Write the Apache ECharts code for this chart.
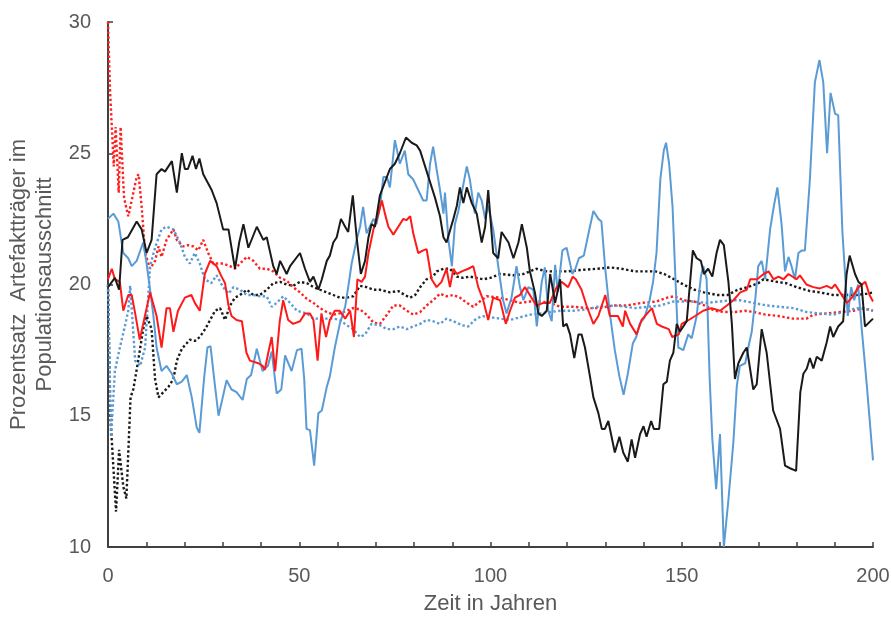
<!DOCTYPE html>
<html>
<head>
<meta charset="utf-8">
<script src="https://cdn.jsdelivr.net/npm/echarts@6/dist/echarts.min.js"></script>
<style>
  html, body { margin: 0; padding: 0; background: #fff; }
  #chart { width: 891px; height: 617px; }
</style>
</head>
<body>
<div id="chart"></div>
<script>
var blackSolid = [
  [0,19.9],[1.8,20.25],[2.9,19.8],[3.8,21.7],[5.2,21.8],[7.5,22.4],[8.8,22.1],[10.1,21.2],[11.4,21.7],
  [12.7,24.2],[14,24.4],[14.9,24.3],[16.7,24.7],[18,23.5],[19.3,25],[20.1,24.4],[20.9,24.4],[22.1,24.9],
  [23,24.4],[23.9,24.8],[24.9,24.2],[27.1,23.6],[28.4,23.1],[30.1,22.1],[31.5,22.1],[33.2,20.6],[34.3,21.6],
  [35.4,22.3],[36.7,21.4],[38.9,22.2],[40.6,21.7],[41.5,21.8],[43.2,20.7],[44.1,20.4],[45,20.9],[46.7,20.4],
  [47.6,20.7],[50.2,21.2],[51.5,20.6],[52.8,20.1],[53.7,20.3],[55,19.8],[55.9,20.2],[57.2,20.9],[58,21.1],
  [58.9,21.6],[59.8,21.8],[60.9,22.5],[62,22.2],[62.8,22],[64,23.4],[65,21.8],[66.1,20.4],[67.2,20.9],
  [68.1,21.8],[68.9,22.3],[69.8,22.2],[71.1,23.4],[72.4,23.9],[73.7,24.4],[75,24.6],[76.3,25],[77.9,25.6],
  [79.4,25.4],[80.7,25.3],[81.6,25.1],[82.9,24.5],[84.2,23.9],[85.5,23.3],[86.8,22.6],[87.7,21.8],[88.5,21.6],
  [90.3,22.5],[91.2,23],[92,23.7],[92.9,23.1],[93.8,23.7],[95.1,23.1],[96.4,22.7],[97.7,21.6],[98.6,22.2],
  [99.4,23.6],[100.7,21.2],[102,21],[102.9,22],[104.7,21.6],[106,21],[107.3,21.6],[108.2,22.3],[109.5,21.4],
  [110.3,20.5],[111.6,19.7],[112.5,18.9],[113.4,18.8],[114.7,19],[115.6,20.4],[116.9,19.3],[118.2,20.2],
  [119,18.4],[119.9,18.5],[120.8,18.1],[121.9,17.2],[123,18.1],[123.8,18.1],[124.7,17.6],[126,16.5],
  [126.9,15.7],[128.2,15.1],[129.1,14.5],[129.9,14.5],[130.8,14.8],[132.5,13.6],[133.7,14.2],[134.7,13.6],
  [135.9,13.25],[136.9,14.1],[137.8,13.4],[139.1,14.3],[140,14.6],[140.8,14.2],[142,14.8],[142.7,14.5],
  [144.1,14.5],[145.2,16.2],[146.1,16.3],[146.9,17.1],[147.8,17.4],[148.7,18.5],[149.5,18.2],[150.4,18.4],
  [151.3,18.6],[152.9,21.3],[153.9,21],[155,20.9],[155.8,20.4],[156.9,20.6],[158,20.3],[159.1,21.2],
  [160,21.7],[161,21.5],[162.2,20.1],[163.1,18.5],[163.9,16.4],[164.8,17],[166.1,17.4],[167,17.6],
  [168.7,16],[169.6,16.2],[170.9,18.3],[172.2,17.4],[173.9,15.2],[175.7,14.5],[177,13.1],[178.3,13],
  [179.9,12.9],[181,15.9],[181.8,16.6],[182.7,16.8],[183.5,17.2],[184.4,16.8],[185.3,17.25],[186.6,17.1],
  [187.9,17.8],[188.8,18.4],[189.6,18],[190.9,18.4],[192.2,18.6],[193.1,20.4],[193.9,21.1],[195.3,20.4],
  [196.2,20.1],[197,20],[197.9,18.4],[200,18.7]
];

var redSolid = [
  [0,20.2],[1,20.6],[1.8,20.2],[3.1,20.1],[4,19],[5.3,19.6],[6.2,19.6],[7.1,18.9],[8.3,17.9],[9.2,18.5],
  [11,19.7],[12.7,18.8],[14,17.6],[15.3,19.1],[16.2,19.1],[17.1,18.2],[18.3,19],[20.1,19.5],[21.8,19.6],
  [22.7,19.3],[24,19],[25.3,20.4],[26.7,20.9],[28.4,20.7],[29.7,20.3],[30.6,20.05],[31.5,19.2],[32.3,18.8],
  [33.6,18.65],[35,18.6],[36.2,17.4],[37.1,17.1],[39.3,17],[40.4,16.9],[41,16.75],[41.9,17.4],[42.8,18],
  [43.7,16.7],[44.9,18.6],[45.8,19.4],[47.1,18.65],[48.4,18.5],[50.2,18.6],[51.5,18.9],[52.8,18.9],
  [53.7,18.65],[54.8,17.1],[55.8,18.9],[57,18],[58,18.65],[59.3,19],[60.6,19],[62,18.7],[63.3,19],
  [64.3,18],[65.2,20.2],[66.3,20.1],[67.2,20.3],[68.1,21.2],[69.4,22.1],[70.7,22.7],[71.6,23.2],[72.4,22.7],
  [73.3,22.2],[74.6,21.9],[75.9,22.2],[77.2,22.5],[78,22.45],[79,22.6],[79.8,21.95],[81.1,21.2],[82.4,21.3],
  [83.3,21.35],[84.6,20.2],[85.9,19.9],[87.2,20.1],[88.5,20.6],[89.4,19.9],[90.3,20.6],[91.2,20.4],
  [92.5,20.5],[94.2,20.6],[95.5,20.7],[96.8,19.9],[98.1,19.4],[99.4,18.65],[100.7,19.5],[102.5,19.4],
  [104,18.5],[105.1,19],[106.4,19.5],[107.7,19.6],[109,19.9],[112,19.2],[113.8,19.3],[115.5,19.3],
  [117.3,19.9],[118.6,20.1],[120.3,19.9],[121.5,20.3],[122.3,20.2],[123.8,19.8],[125.1,19.2],[126.9,18.5],
  [128.2,18.8],[130,19.6],[131.2,18.8],[133.3,18.8],[134.6,18.4],[135.2,19],[136.5,18.5],[138.2,18.1],
  [139.5,18.65],[142.2,19.1],[143.5,18.5],[144.8,18.4],[146.6,18.3],[147.5,18],[149.2,18.1],[150,18.5],
  [151.3,18.6],[153.5,18.8],[155.6,19],[157.8,19.1],[160,19],[161.8,19.2],[163.5,19.4],[165.3,19.7],
  [167,19.8],[167.9,20.2],[169.7,20.2],[171.4,20.4],[172.7,20.5],[174,20.2],[175.3,20.3],[176.6,20.2],
  [177.9,20.4],[180,20.2],[180.9,20.35],[182.6,20],[184.4,19.9],[186.1,19.85],[187.9,19.95],[189.2,19.85],
  [190.1,20],[191.4,19.7],[193.2,19.3],[194.5,19.5],[196.2,19.9],[198,20.1],[199.1,19.6],[200,19.35]
];

var blueSolid = [
  [0,22.5],[1.4,22.7],[2.7,22.4],[4,21.2],[5.3,21],[6.2,20.7],[7.5,20.9],[9.2,21.6],[10.1,20.8],[11,19.8],
  [11.8,18.9],[12.7,17.6],[14,16.7],[15.3,16.9],[16.7,16.6],[18,16.2],[19.3,16.3],[20.6,16.55],[21.9,15.7],
  [23.2,14.55],[23.9,14.35],[25.1,16.4],[26,17.6],[26.8,17.65],[28,16.1],[28.9,15],[30,15.7],[31,16.35],
  [32.3,16],[33.6,15.9],[35.2,15.6],[36.3,16.4],[37.4,16.55],[38.9,17.55],[40.4,16.7],[41.8,16.9],
  [42.8,17.45],[44.1,15.85],[45.3,16],[46.3,17.3],[48,16.7],[49.4,17.5],[50.6,17.55],[51.3,16.4],
  [51.9,14.5],[52.8,14.45],[53.9,13.1],[55,15.1],[55.9,15.2],[57.2,16.1],[58,16.5],[59.3,17.6],[60.6,18.5],
  [62,19.15],[62.8,19.9],[63.7,20.8],[65,21.7],[65.9,22.2],[66.7,22.96],[67.6,21.95],[69.4,22.5],
  [70.2,22.3],[71.1,22.96],[72,24.1],[72.9,24.1],[73.7,23.7],[75,25.5],[76.3,24.6],[77.6,25.1],[78.5,24.2],
  [79.8,24],[81.1,23.6],[82.4,23.2],[83.3,23.2],[84.2,24.6],[85,25.25],[85.9,24.4],[86.8,23.6],[87.7,22.7],
  [88.1,23.5],[89,21.7],[89.9,20.7],[90.7,22.3],[91.6,22.8],[92.5,23.5],[93.8,24.5],[94.6,24],[95.9,22.7],
  [96.8,23.5],[97.7,23.2],[98.6,22.5],[99.4,23],[100.7,22.1],[102.5,20.2],[103.3,19.4],[104.2,18.9],
  [105.5,19.5],[106.8,20.7],[107.7,19.9],[108.6,19.4],[109.9,19.9],[111.2,19.8],[112.1,18.4],[113.4,20.1],
  [114.2,20.65],[115.1,19],[116,18.6],[116.9,20.75],[117.6,19.7],[118.8,21.3],[119.9,21.4],[121.4,20.4],
  [122.2,20.6],[123.1,21],[124.4,21.1],[125.7,22],[126.9,22.8],[128.2,22.5],[129,22.4],[130,20.6],
  [131.2,18.9],[132.5,17.5],[133.7,16.5],[134.8,15.8],[135.9,16.6],[137.2,17.75],[138.1,18],[139,18.5],
  [140.3,18.75],[141.6,19.4],[142.5,20.1],[143.4,21.2],[144.4,24],[145.3,25.1],[145.9,25.4],[146.7,24.6],
  [147.6,22.96],[148.3,20.4],[149.1,17.6],[150.4,17.5],[151.7,18.1],[152.6,17.95],[153.9,18.8],[155,20.3],
  [155.6,20.7],[156.5,20.2],[157.3,16.4],[158,14.1],[159,12.2],[160,14.3],[161,10],[162.2,11.8],[163.5,14],
  [164.4,16.15],[165.2,16.9],[166.6,17],[167.4,17.6],[168.3,18.2],[169.2,19.4],[170,20.7],[170.9,20.9],
  [171.8,20.2],[173.1,22.1],[174.1,23],[175,23.7],[176.1,22.3],[177,20.5],[177.9,21.05],[178.7,20.7],
  [179.6,20.2],[180.5,21.2],[181.4,21.3],[182.2,21.3],[183.5,24],[184.8,27.7],[186,28.55],[187,27.7],
  [188,25],[188.9,27.3],[190.1,26.5],[190.9,26.45],[192,22],[193.4,18.8],[194.3,19.9],[195.1,19.4],
  [196.1,20],[197,18.4],[198.3,16.3],[200,13.3]
];

var blackDotted = [
  [0,20],[0.6,15],[2.1,11.35],[2.9,13.7],[4,12.3],[4.8,11.85],[5.9,15.7],[6.6,16],[7.9,17.1],[9.2,18.3],
  [10.1,18.8],[11.4,18.3],[12.3,16.4],[13.2,15.7],[14.5,15.9],[15.8,16.1],[17.1,16.4],[18,17.1],[19.3,17.55],
  [21.4,17.9],[22.7,17.85],[24,18],[25.4,18.3],[26.7,18.65],[28,19],[29.3,19.1],[30.6,18.65],[31.9,19.2],
  [33.2,19.5],[34.5,19.6],[36.3,19.8],[38,19.6],[39.7,19.6],[41.5,19.8],[43.2,20.05],[45,20.1],[46.7,20],
  [48.4,19.95],[50.2,20.1],[52,20.05],[53.7,19.9],[55.4,19.8],[57.2,19.7],[58.9,19.6],[60.6,19.5],
  [62.4,19.5],[64.1,19.55],[65.9,19.95],[67.6,19.9],[69.4,19.8],[71.1,19.8],[73.7,19.7],[75.9,19.75],
  [77.6,19.6],[79,19.5],[80.3,19.6],[81.6,19.9],[83.3,20.2],[85,20.3],[85.9,20.5],[87.7,20.6],[89.4,20.6],
  [91.2,20.3],[92.9,20.25],[94.6,20.3],[96.4,20.25],[98.1,20.2],[99.9,20.25],[102.5,20.4],[106,20.35],
  [108.6,20.4],[110.3,20.5],[112,20.6],[114.7,20.5],[117.3,20.5],[120,20.5],[123.4,20.55],[127.8,20.6],
  [131.4,20.65],[134.2,20.6],[137.9,20.5],[143.1,20.5],[145.4,20.4],[148,20.2],[150.4,20],[153.3,19.8],
  [155.8,19.7],[159.3,19.6],[162,19.6],[164.6,19.8],[167.3,19.9],[170,20.05],[171.4,20.2],[174.9,20.1],
  [177.3,20.05],[180,19.9],[183.5,19.75],[186.1,19.7],[189.6,19.6],[193.1,19.6],[195.7,19.6],[198.4,19.65],
  [200,19.7]
];

var redDotted = [
  [0,30],[0.5,27.5],[1,26],[1.5,24.5],[2,26],[2.8,23.5],[3.3,26],[4.2,23.3],[5.3,22.6],[6.2,23.2],
  [7.5,24.1],[8,24.2],[8.8,22.96],[9.7,21.2],[11,20.6],[12.3,20.9],[13.2,21.45],[14,21.05],[15.3,21.7],
  [17.1,22.1],[18,21.7],[19.6,21.45],[21,21.5],[22.3,21.45],[23.6,21.3],[24.9,21.7],[26.2,21.2],[27.5,20.8],
  [30.1,20.8],[31.9,20.7],[33.2,20.6],[34.5,20.8],[36.3,21.05],[38,20.9],[39.7,20.6],[41.5,20.6],
  [43.2,20.5],[45,20.25],[46.7,20.15],[48.4,19.9],[50.2,19.7],[52,19.45],[53.7,19.3],[55.4,19.1],
  [57.2,18.95],[59,18.85],[60.6,18.9],[62.4,19],[64.1,19.1],[65.9,19.05],[67.6,18.85],[69.4,18.55],
  [71.1,18.5],[72.9,18.85],[74.6,19.2],[76.3,19.2],[78.1,19],[79.8,18.85],[81.6,18.95],[83.3,19.2],
  [85,19.4],[86.8,19.65],[88.5,19.55],[90.3,19.6],[92,19.5],[93.8,19.3],[95.5,19.15],[97.2,19.35],
  [99,19.55],[102.5,19.5],[105.1,19.4],[107.7,19.3],[110.3,19.35],[113,19.35],[115.6,19.3],[118.2,19.15],
  [121.7,19.15],[125.2,19.1],[128.5,19.1],[132.2,19.2],[135.6,19.2],[139.6,19.3],[143.3,19.35],[146.2,19.5],
  [148,19.55],[150.6,19.4],[153.3,19.35],[156,19.2],[158.6,19],[161.2,18.95],[163.9,18.95],[166.5,19],
  [169,18.95],[171.9,18.85],[175.3,18.8],[179,18.7],[182.6,18.7],[184.4,18.85],[187.9,18.9],[191.4,18.95],
  [194.9,19],[197.5,19.1],[200,19]
];

var blueDotted = [
  [0,20],[0.8,14.2],[1.8,16.7],[3.1,17.6],[4.4,18.4],[5.3,19],[5.8,19.95],[7.1,17.1],[8.4,16.9],[9.7,17.6],
  [11,20.7],[12.3,21.4],[14,22.1],[15.3,22.2],[17.1,22.1],[18.8,21.6],[20.1,21.05],[21.4,20.8],[22.7,21.2],
  [24,20.8],[25.3,20.2],[27,20.05],[28.4,20.35],[30.1,19.9],[31.5,19.65],[32.8,19.9],[34.5,19.8],
  [36.3,19.6],[38,19.6],[39.7,19.55],[41.5,19.55],[42.8,19.15],[44.1,19.3],[45.8,19.55],[47.6,19.3],
  [49.4,19],[51.9,18.9],[53.7,18.7],[55.4,18.7],[57.2,18.7],[59,18.7],[60.6,18.65],[62.4,18.45],
  [64.1,18.3],[65.9,18],[67.2,18.1],[68.9,18.5],[71.1,18.45],[72.9,18.3],[74.6,18.3],[76.3,18.4],
  [78.1,18.3],[79.8,18.4],[81.6,18.5],[83.3,18.65],[85,18.6],[86.8,18.5],[88.5,18.7],[90.3,18.6],
  [92.5,18.45],[94.2,18.4],[95.9,18.65],[97.7,18.8],[102.5,18.7],[105.1,18.65],[107.7,18.75],[110.3,18.85],
  [113,18.9],[115.6,18.95],[118.2,19],[121.7,19],[125.2,19.05],[127.8,19.15],[132.6,19.2],[137.9,19.1],
  [144.3,19.2],[147.8,19.35],[152.6,19.35],[156.5,19.3],[160,19.35],[162.6,19.4],[165.2,19.4],[168.7,19.3],
  [172.2,19.2],[175.7,19.15],[179.2,19.1],[182.7,18.95],[186.1,18.9],[189.7,18.85],[193.1,19],[195.8,19.1],
  [198.4,19.05],[200,19]
];

var xTickLabels = [0, 50, 100, 150, 200];
var yTickLabels = [10, 15, 20, 25, 30];

var textColor = '#595959';
var axisColor = '#404040';
var fontFamily = 'Arial, "Liberation Sans", sans-serif';

function lineSeries(data, color, type, width) {
  return {
    type: 'line',
    data: data,
    showSymbol: false,
    symbol: 'none',
    smooth: false,
    clip: true,
    lineStyle: { color: color, width: width, type: type },
    itemStyle: { color: color }
  };
}

var chart = echarts.init(document.getElementById('chart'));
chart.setOption({
  animation: false,
  backgroundColor: '#fff',
  textStyle: { fontFamily: fontFamily },
  grid: { left: 108, right: 18, top: 22, bottom: 70, outerBoundsMode: 'none', containLabel: false },
  xAxis: {
    type: 'value',
    min: 0,
    max: 200,
    interval: 10,
    name: 'Zeit in Jahren',
    nameLocation: 'middle',
    nameGap: 46,
    nameTextStyle: { color: textColor, fontSize: 22, fontFamily: fontFamily },
    axisLine: { lineStyle: { color: axisColor, width: 2 } },
    axisTick: { inside: true, length: 5, lineStyle: { color: axisColor, width: 1.5 } },
    axisLabel: {
      color: textColor, fontSize: 20, margin: 19, fontFamily: fontFamily,
      formatter: function (v) { return xTickLabels.indexOf(v) >= 0 ? String(v) : ''; }
    },
    splitLine: { show: false }
  },
  yAxis: {
    type: 'value',
    min: 10,
    max: 30,
    interval: 5,
    name: 'Prozentsatz  Artefaktträger im\nPopulationsausschnitt',
    nameLocation: 'middle',
    nameGap: 50,
    nameRotate: 90,
    nameTextStyle: { color: textColor, fontSize: 22, lineHeight: 26, fontFamily: fontFamily },
    axisLine: { show: true, lineStyle: { color: axisColor, width: 2 } },
    axisTick: { show: true, inside: true, length: 5, lineStyle: { color: axisColor, width: 1.5 } },
    axisLabel: {
      color: textColor, fontSize: 20, margin: 17, fontFamily: fontFamily,
      formatter: function (v) { return yTickLabels.indexOf(v) >= 0 ? String(v) : ''; }
    },
    splitLine: { show: false }
  },
  series: [
    lineSeries(blackDotted, '#1a1a1a', 'dotted', 2.4),
    lineSeries(redDotted, '#ff2020', 'dotted', 2.4),
    lineSeries(blueDotted, '#5b9bd5', 'dotted', 2.4),
    lineSeries(blueSolid, '#5b9bd5', 'solid', 2),
    lineSeries(redSolid, '#ff1a1a', 'solid', 2),
    lineSeries(blackSolid, '#1a1a1a', 'solid', 2)
  ]
});
</script>
</body>
</html>
